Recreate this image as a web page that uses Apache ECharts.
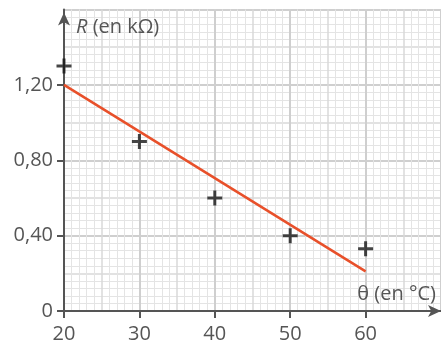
<!DOCTYPE html>
<html>
<head>
<meta charset="utf-8">
<style>
  html, body { margin: 0; padding: 0; background: #fff; }
  #chart { width: 441px; height: 342px; }
</style>
</head>
<body>
<div id="chart"></div>
<script src="https://cdn.jsdelivr.net/npm/echarts@6/dist/echarts.min.js"></script>
<script>
// mesures : température (°C) et résistance (kΩ)
var theta = [20, 30, 40, 50, 60];
var resistance = [1.30, 0.90, 0.60, 0.40, 0.33];
// droite tracée à la main sur le graphique
var fitTheta = [20, 60];
var fitR = [1.20, 0.21];
// graduations
var xTicks = [20, 30, 40, 50, 60];
var yTicks = [0, 0.4, 0.8, 1.2];
var yTickLabels = ['0', '0,40', '0,80', '1,20'];

var axisColor = '#555';
var font = '"Open Sans", "Noto Sans", sans-serif';
var plus = 'path://M6,0H9V6H15V9H9V15H6V9H0V6H6Z';

// axes cachés qui ne servent qu'au quadrillage (papier millimétré)
function gridAxis(type, interval, color, width, minor) {
  var a = {
    type: 'value',
    gridIndex: 0,
    interval: interval,
    axisLine: { show: false },
    axisTick: { show: false },
    axisLabel: { show: false },
    splitLine: { show: true, lineStyle: { color: color, width: width } }
  };
  if (minor) {
    a.minorTick = { show: false, splitNumber: 5 };
    a.minorSplitLine = { show: true, lineStyle: { color: '#e4e4e4', width: 1 } };
  }
  if (type === 'x') { a.min = 20; a.max = 70; a.position = 'bottom'; }
  else { a.min = 0; a.max = 1.6; a.position = 'left'; }
  return a;
}

var chart = echarts.init(document.getElementById('chart'));
chart.setOption({
  animation: false,
  grid: { left: 64, right: 0, top: 9.5, bottom: 31, outerBoundsMode: 'none', containLabel: false },
  xAxis: [
    gridAxis('x', 5, '#d9d9d9', 1.5, true),
    gridAxis('x', 10, '#cfcfcf', 2, false),
    {
      type: 'value',
      position: 'bottom',
      min: 20,
      max: 70,
      name: 'θ (en °C)',
      nameLocation: 'end',
      nameGap: 0,
      nameTextStyle: {
        fontFamily: font, fontSize: 20, color: axisColor,
        align: 'right', verticalAlign: 'bottom', padding: [0, 5, 7, 0]
      },
      axisLine: {
        show: true,
        lineStyle: { color: axisColor, width: 2 },
        symbol: ['none', 'arrow'],
        symbolSize: [9, 13]
      },
      axisTick: {
        show: true, length: 7, customValues: xTicks,
        lineStyle: { color: axisColor, width: 2 }
      },
      axisLabel: {
        customValues: xTicks,
        margin: 13,
        fontFamily: font, fontSize: 20, color: axisColor
      },
      splitLine: { show: false }
    }
  ],
  yAxis: [
    gridAxis('y', 0.2, '#d9d9d9', 1.5, true),
    gridAxis('y', 0.4, '#cfcfcf', 2, false),
    {
      type: 'value',
      position: 'left',
      min: 0,
      max: 1.6,
      name: '{i|R} (en kΩ)',
      nameLocation: 'end',
      nameGap: -18,
      nameTextStyle: {
        fontFamily: font, fontSize: 20, color: axisColor,
        align: 'left', verticalAlign: 'middle', padding: [0, 0, 0, 12],
        rich: {
          i: { fontFamily: font, fontSize: 20, color: axisColor, fontStyle: 'italic' }
        }
      },
      axisLine: {
        show: true,
        onZero: false,
        lineStyle: { color: axisColor, width: 2 },
        symbol: ['none', 'arrow'],
        symbolSize: [9, 13],
        symbolOffset: [0, -3]
      },
      axisTick: {
        show: true, length: 7, customValues: yTicks,
        lineStyle: { color: axisColor, width: 2 }
      },
      axisLabel: {
        customValues: yTicks,
        margin: 11,
        fontFamily: font, fontSize: 20, color: axisColor,
        formatter: function (v) {
          var i = yTicks.indexOf(v);
          return i >= 0 ? yTickLabels[i] : '';
        }
      },
      splitLine: { show: false }
    }
  ],
  series: [
    {
      type: 'line',
      xAxisIndex: 2,
      yAxisIndex: 2,
      data: fitTheta.map(function (t, i) { return [t, fitR[i]]; }),
      showSymbol: false,
      lineStyle: { color: '#e8502a', width: 2.5 },
      z: 3
    },
    {
      type: 'scatter',
      xAxisIndex: 2,
      yAxisIndex: 2,
      data: theta.map(function (t, i) { return [t, resistance[i]]; }),
      symbol: plus,
      symbolSize: 15,
      itemStyle: { color: '#161616' },
      z: 4
    }
  ]
});
</script>
</body>
</html>
